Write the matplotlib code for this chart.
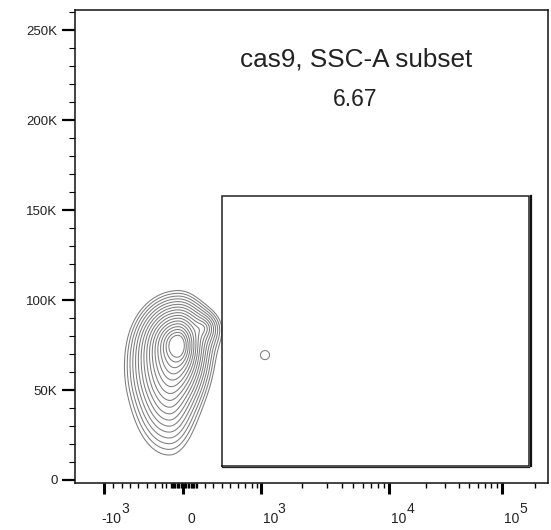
import numpy as np
import matplotlib
matplotlib.use("Agg")
import matplotlib.pyplot as plt
from matplotlib import transforms as mtransforms
from matplotlib.ticker import FixedLocator, NullFormatter, FixedFormatter

plt.rcParams['font.family'] = ['Liberation Sans', 'DejaVu Sans']

# ---------------- data ----------------
gate_name = "cas9, SSC-A subset"
gate_freq = "6.67"
gate_x = [400, 178000]          # gate x range (data units)
gate_y = [7800, 158000]         # gate y range (SSC-A)

# population density components: centres in data units,
# spreads (left/right in display units, up/down in data units), weights, core softness
blob_x = [-40, -80, -140, 170, 1080]
blob_y = [75000, 62200, 48900, 84400, 69400]
blob_sxl = [11, 11, 14, 8, 25]
blob_sxr = [8, 8.6, 11, 8, 25]
blob_syu = [7060, 7220, 10000, 4440, 13900]
blob_syd = [7220, 7220, 13800, 4440, 13900]
blob_w = [1.0, 0.35, 0.25, 0.1, 0.0188]
blob_soft = [0.3, 1.2, 1.2, 0.6, 0.0]

x_major = [-1000, 0, 1000, 10000, 100000]
x_major_base = ["-10", "0", "10", "10", "10"]
x_major_exp = ["3", "", "3", "4", "5"]
x_minor = ([-900, -800, -700, -600, -500, -400, -300, -200, -100]
           + list(range(-90, 0, 10)) + list(range(10, 100, 10))
           + list(range(100, 1000, 100)) + list(range(2000, 10000, 1000))
           + list(range(20000, 100000, 10000)) + [200000])
y_major = [0, 50000, 100000, 150000, 200000, 250000]
y_labels = ["0", "50K", "100K", "150K", "200K", "250K"]
y_minor = list(range(10000, 270000, 10000))

# biexponential-like display scale (value -> display position)
scale_vals = np.array([-3000, -1000, -900, -800, -700, -600, -500, -400, -300, -200, -100, 0,
                       100, 200, 300, 400, 500, 600, 700, 800, 900, 1000, 2000, 3000,
                       10000, 20000, 100000, 200000, 1000000], dtype=float)
scale_pos = np.array([36, 104.3, 113, 121.7, 130, 138, 146.7, 155, 161.7, 166.5, 171, 183.5,
                      196.7, 205, 213, 221.7, 230, 238, 245, 251.7, 256.7, 260.5, 301.7, 326.7,
                      389.3, 426, 502, 535, 615], dtype=float)
scale_t = np.arcsinh(scale_vals / 100.0)


def forward(x):
    x = np.asarray(x, dtype=float)
    return np.interp(np.arcsinh(x / 100.0), scale_t, scale_pos)


def inverse(u):
    u = np.asarray(u, dtype=float)
    return 100.0 * np.sinh(np.interp(u, scale_pos, scale_t))


# ---------------- figure ----------------
W, H = 551, 530
fig = plt.figure(figsize=(W / 100, H / 100), dpi=100)
left_px, right_px, top_px, bot_px = 75, 548, 9.5, 483
ax = fig.add_axes([left_px / W, 1 - bot_px / H, (right_px - left_px) / W, (bot_px - top_px) / H])
ax.set_xscale('function', functions=(forward, inverse))
ax.set_xlim(inverse(left_px), inverse(right_px))
ax.set_ylim(-1667, 261400)

# density on grid (display-space in x), log-spaced contour levels
U = np.linspace(95, 320, 600)
Yv = np.linspace(-10000, 150000, 600)
UU, YY = np.meshgrid(U, Yv)
Z = np.zeros_like(UU)
for bx, by, sxl, sxr, syu, syd, w, eps in zip(blob_x, blob_y, blob_sxl, blob_sxr,
                                               blob_syu, blob_syd, blob_w, blob_soft):
    du = UU - forward(bx)
    dy = YY - by
    dx = du / np.where(du < 0, sxl, sxr)
    dy = dy / np.where(dy > 0, syu, syd)
    Z += w * np.exp(-np.sqrt(dx ** 2 + dy ** 2 + eps ** 2))
XX = inverse(UU)
levels = np.exp(np.linspace(-4.15, -0.75, 17))
ax.contour(XX, YY, Z, levels=levels, colors='#7d7d7d', linewidths=0.75)

# gate rectangle with shadow
gx0, gx1 = gate_x
gy0, gy1 = gate_y
ax.plot([gx0, gx1, gx1, gx0, gx0], [gy0, gy0, gy1, gy1, gy0], color='#222222', lw=1.1,
        solid_joinstyle='miter', zorder=5)
sh_r = mtransforms.offset_copy(ax.transData, fig=fig, x=1.5, y=0, units='dots')
ax.plot([gx1, gx1], [gy0, gy1], color='#111111', lw=1.6, transform=sh_r, zorder=5)
sh_b = mtransforms.offset_copy(ax.transData, fig=fig, x=0, y=-0.8, units='dots')
ax.plot([gx0, gx1], [gy0, gy0], color='#222222', lw=0.9, transform=sh_b, zorder=5)

# gate annotation
ax.text((356 - left_px) / (right_px - left_px), (bot_px - 66) / (bot_px - top_px), gate_name,
        transform=ax.transAxes, ha='center', va='baseline', fontsize=18.8, color='#222222')
ax.text((355 - left_px) / (right_px - left_px), (bot_px - 106) / (bot_px - top_px), gate_freq,
        transform=ax.transAxes, ha='center', va='baseline', fontsize=16.5, color='#222222')

# axes styling
for s in ax.spines.values():
    s.set_linewidth(1.1)
    s.set_color('#111111')

ax.xaxis.set_major_locator(FixedLocator(x_major))
ax.xaxis.set_minor_locator(FixedLocator(x_minor))
ax.xaxis.set_major_formatter(NullFormatter())
ax.xaxis.set_minor_formatter(NullFormatter())
ax.yaxis.set_major_locator(FixedLocator(y_major))
ax.yaxis.set_minor_locator(FixedLocator(y_minor))
ax.yaxis.set_major_formatter(FixedFormatter(y_labels))
ax.yaxis.set_minor_formatter(NullFormatter())
ax.tick_params(axis='x', which='major', direction='out', length=8, width=2.2, color='black')
ax.tick_params(axis='x', which='minor', direction='out', length=3.3, width=1.0, color='black')
ax.tick_params(axis='y', which='major', direction='out', length=9.4, width=1.6, color='black',
               labelsize=9.5, pad=3.2, labelcolor='#222222')
ax.tick_params(axis='y', which='minor', direction='out', length=4.2, width=0.8, color='black')

# x tick labels: base and exponent in the same size
xt = ax.get_xaxis_transform()
for v, b, e in zip(x_major, x_major_base, x_major_exp):
    if e:
        tb = mtransforms.offset_copy(xt, fig=fig, x=17.5, y=-(523 - bot_px), units='dots')
        ax.text(v, 0, b, transform=tb, ha='right', va='baseline', fontsize=10, color='#222222',
                clip_on=False)
        te = mtransforms.offset_copy(xt, fig=fig, x=17.3, y=-(513 - bot_px), units='dots')
        ax.text(v, 0, e, transform=te, ha='left', va='baseline', fontsize=10, color='#222222',
                clip_on=False)
    else:
        tb = mtransforms.offset_copy(xt, fig=fig, x=8.2, y=-(523 - bot_px), units='dots')
        ax.text(v, 0, b, transform=tb, ha='center', va='baseline', fontsize=10, color='#222222',
                clip_on=False)

fig.savefig("out.png", dpi=100)
